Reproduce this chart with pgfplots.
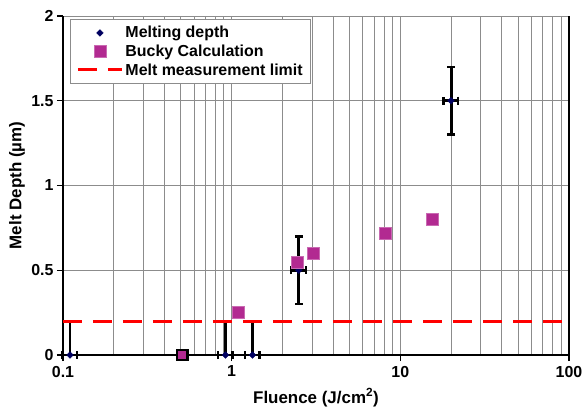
\documentclass[border=0pt]{standalone}
\usepackage{pgfplots}
\pgfplotsset{compat=1.18}
\usepackage{fontspec}
\setmainfont{Liberation Sans}

\definecolor{bucky}{RGB}{178,42,145}
\definecolor{meltnavy}{RGB}{0,0,96}
\definecolor{gridgray}{RGB}{140,140,140}

\begin{document}
\begin{tikzpicture}
\begin{axis}[
    scale only axis,
    width=506bp, height=339bp,
    xmode=log,
    xmin=0.1, xmax=100,
    ymin=0, ymax=2,
    xtick={0.1,1,10,100},
    xticklabels={0.1,1,10,100},
    ytick={0,0.5,1,1.5,2},
    yticklabels={0,0.5,1,1.5,2},
    grid=both,
    major grid style={gridgray, line width=0.9bp},
    minor grid style={gridgray, line width=0.9bp},
    axis x line*=bottom,
    axis y line*=box,
    ytick pos=left,
    axis line style={black, line width=1.3bp},
    tick align=outside,
    major tick length=6bp,
    minor tick length=0bp,
    tick style={black, line width=1.2bp},
    font=\bfseries\fontsize{16}{18}\selectfont,
    ticklabel style={font=\bfseries\fontsize{16}{18}\selectfont},
    xticklabel style={yshift=-1.5bp},
    xlabel={Fluence (J/cm\textsuperscript{2})},
    ylabel={Melt Depth (µm)},
    label style={font=\bfseries\fontsize{17}{19}\selectfont},
    xlabel style={at={(axis description cs:0.5,0)}, anchor=base, yshift=-48bp},
    ylabel style={at={(axis description cs:0,0.5)}, anchor=center, yshift=46bp},
    clip=false,
    legend style={
        at={(rel axis cs:0.0138,0.99)}, anchor=north west,
        draw=gridgray, line width=1bp, fill=white,
        font=\bfseries\fontsize{16}{17.5}\selectfont,
        inner xsep=6bp, inner ysep=4.5bp,
        nodes={inner sep=2bp},
        row sep=1.5bp,
    },
    legend cell align=left,
    legend image code/.code={%
        \draw[mark repeat=2, mark phase=2, #1]
            plot coordinates {(0bp,0bp) (22bp,0bp) (44bp,0bp)};},
]

% Melting depth with error bars
\addplot[
    only marks,
    mark=square*, mark size=2.4bp,
    mark options={rotate=45, fill=meltnavy, draw=meltnavy, line width=0.3bp},
    error bars/.cd,
        x dir=both, x explicit relative,
        y dir=both, y explicit,
        error bar style={black, line width=2.8bp},
        error mark options={rotate=90, black, line width=2.4bp, mark size=4bp},
] table[x=x, y=y, x error=ex, y error plus=eyp, y error minus=eym] {
x     y    ex    eyp  eym
0.11  0    0.10  0.2  0
0.92  0    0.10  0.2  0
1.33  0    0.10  0.2  0
2.5   0.5  0.10  0.2  0.2
20    1.5  0.10  0.2  0.2
};
\addlegendentry{Melting depth}

% Bucky calculation
\addplot[
    only marks,
    mark=square*, mark size=6bp,
    mark options={fill=bucky, draw=bucky!70!white, line width=0.4bp},
] coordinates {
    (1.1,0.25) (2.45,0.545) (3.05,0.60) (8.1,0.72) (15.5,0.80)
};
\addlegendentry{Bucky Calculation}

% Melt measurement limit
\addplot[
    red, line width=3bp,
    dash pattern=on 19bp off 11bp,
] coordinates {(0.1,0.2) (100,0.2)};
\addlegendentry{Melt measurement limit}

% outlined point at 0.5
\addplot[
    only marks, forget plot,
    mark=square*, mark size=5.2bp,
    mark options={fill=bucky, draw=black, line width=2.5bp},
] coordinates {(0.51,0)};

\end{axis}
\pgfresetboundingbox
\path[use as bounding box] (-63bp,-52bp) rectangle (520bp,355bp);
\end{tikzpicture}
\end{document}
